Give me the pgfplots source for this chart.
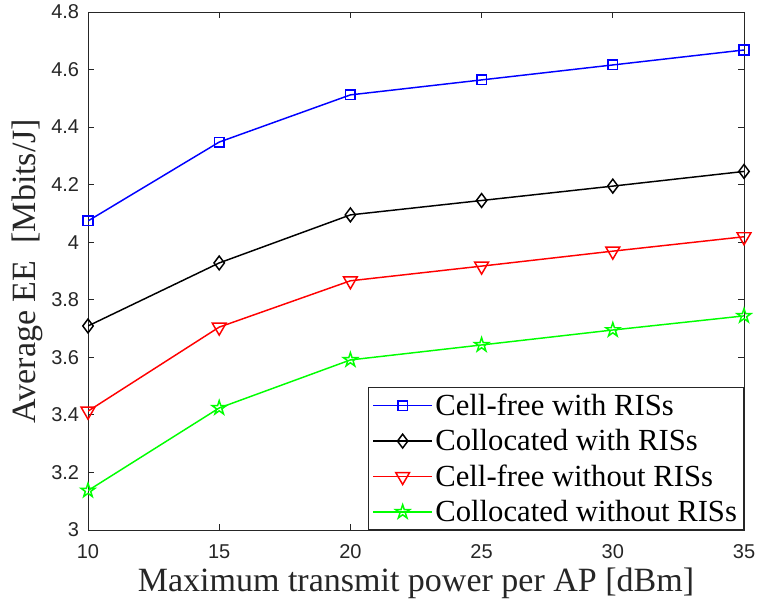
\documentclass[border=0pt]{standalone}
\usepackage{pgfplots}
\pgfplotsset{compat=1.18}
\usepackage{fontspec}
\setmainfont{Liberation Serif}
\newfontfamily\ticksans{Liberation Sans}
\definecolor{axgray}{RGB}{38,38,38}

% outlined five-pointed star
\pgfdeclareplotmark{pentagram}{%
  \pgfpathmoveto{\pgfpointpolar{90}{\pgfplotmarksize}}%
  \pgfpathlineto{\pgfpointpolar{126}{0.382\pgfplotmarksize}}%
  \pgfpathlineto{\pgfpointpolar{162}{\pgfplotmarksize}}%
  \pgfpathlineto{\pgfpointpolar{198}{0.382\pgfplotmarksize}}%
  \pgfpathlineto{\pgfpointpolar{234}{\pgfplotmarksize}}%
  \pgfpathlineto{\pgfpointpolar{270}{0.382\pgfplotmarksize}}%
  \pgfpathlineto{\pgfpointpolar{306}{\pgfplotmarksize}}%
  \pgfpathlineto{\pgfpointpolar{342}{0.382\pgfplotmarksize}}%
  \pgfpathlineto{\pgfpointpolar{18}{\pgfplotmarksize}}%
  \pgfpathlineto{\pgfpointpolar{54}{0.382\pgfplotmarksize}}%
  \pgfpathclose
  \pgfusepathqstroke
}

\begin{document}
\begin{tikzpicture}
\begin{axis}[
  scale only axis,
  width=492pt, height=388.5pt,
  xmin=10, xmax=35, ymin=3, ymax=4.8,
  xtick={10,15,20,25,30,35},
  ytick={3,3.2,3.4,3.6,3.8,4,4.2,4.4,4.6,4.8},
  tick align=inside,
  major tick length=4.5pt,
  axis line style={axgray, line width=0.6pt},
  every tick/.style={axgray, line width=0.6pt},
  /pgf/number format/assume math mode=true,
  every tick label/.append style={font=\ticksans\fontsize{15}{15}\selectfont,
    text=axgray, inner sep=0pt},
  xticklabel style={anchor=north, yshift=-11pt},
  yticklabel style={anchor=east, xshift=-6.5pt},
  xlabel={Maximum transmit power per AP [dBm]},
  ylabel={Average EE\ \ [Mbits/J]},
  xlabel style={font=\fontsize{25.5}{25.5}\selectfont, text=axgray, inner sep=0pt,
    at={(axis description cs:0.5,-0.103)}, anchor=center},
  ylabel style={font=\fontsize{25.5}{25.5}\selectfont, text=axgray, inner sep=0pt,
    at={(axis description cs:-0.092,0.5)}, anchor=center},
  legend cell align=left,
  legend style={at={(1,0)}, anchor=south east, draw=axgray, line width=0.6pt,
    font=\fontsize{23}{23}\selectfont, fill=white,
    row sep=5pt, inner xsep=3pt, inner ysep=2.5pt},
  legend image code/.code={%
    \draw[line width=1.1pt, mark repeat=2, mark phase=2]
      plot coordinates {(0pt,0pt) (22pt,0pt) (44pt,0pt)};},
  every axis plot/.append style={line width=1.1pt},
]
\addplot[blue, mark=square, mark size=3.6pt] coordinates {
  (10,4.074) (15,4.348) (20,4.512) (25,4.564) (30,4.616) (35,4.668)};
\addlegendentry{Cell-free with RISs}
\addplot[black, mark=diamond, mark size=5.2pt] coordinates {
  (10,3.709) (15,3.928) (20,4.095) (25,4.145) (30,4.195) (35,4.246)};
\addlegendentry{Collocated with RISs}
\addplot[red, mark=triangle, mark size=6pt, every mark/.append style={rotate=180}] coordinates {
  (10,3.413) (15,3.705) (20,3.866) (25,3.917) (30,3.969) (35,4.019)};
\addlegendentry{Cell-free without RISs}
\addplot[green, mark=pentagram, mark size=5.5pt] coordinates {
  (10,3.137) (15,3.424) (20,3.591) (25,3.643) (30,3.695) (35,3.744)};
\addlegendentry{Collocated without RISs}
\end{axis}
\pgfresetboundingbox
\path[use as bounding box] ([shift={(-66pt,-55.5pt)}]current axis.south west)
  rectangle ([shift={(10.5pt,9pt)}]current axis.north east);
\end{tikzpicture}
\end{document}
